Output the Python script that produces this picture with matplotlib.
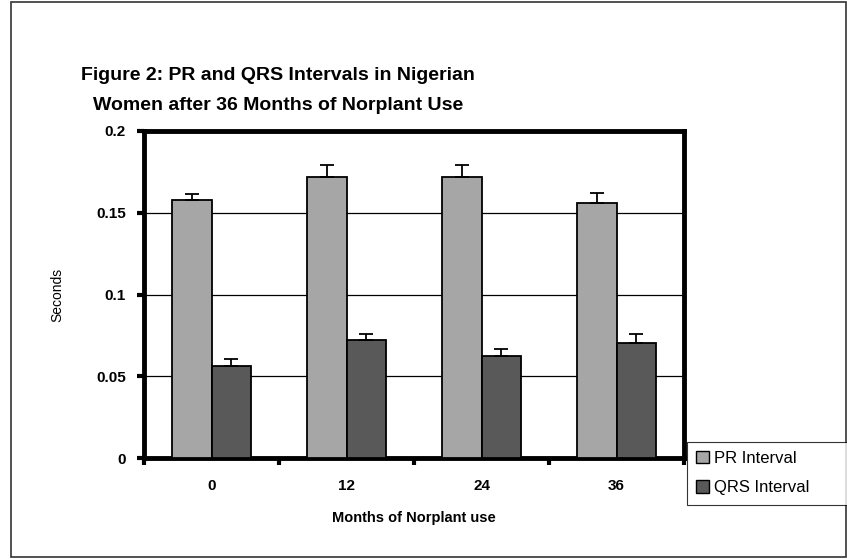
import matplotlib
matplotlib.use('Agg')
import matplotlib.pyplot as plt
from matplotlib.patches import Rectangle, Patch
import numpy as np

plt.rcParams['font.family'] = ['Liberation Sans', 'DejaVu Sans']

months = ['0', '12', '24', '36']
pr_interval = [0.158, 0.172, 0.172, 0.156]
pr_err = [0.0037, 0.007, 0.007, 0.0058]
qrs_interval = [0.056, 0.072, 0.0626, 0.0701]
qrs_err = [0.0047, 0.0037, 0.0039, 0.0058]

fig = plt.figure(figsize=(8.47, 5.59), dpi=100)
ax = fig.add_axes([144 / 847, 1 - 458 / 559, 540 / 847, 327 / 559])

x = np.arange(len(months))
w = 0.29
err_kw = dict(ecolor='black', elinewidth=1.3, capsize=4.7, capthick=1.3)
ax.bar(x - w / 2, pr_interval, w, color='#a6a6a6', edgecolor='black', linewidth=1.3,
       yerr=[np.zeros(len(pr_err)), pr_err], error_kw=err_kw, zorder=3)
ax.bar(x + w / 2, qrs_interval, w, color='#595959', edgecolor='black', linewidth=1.3,
       yerr=[np.zeros(len(qrs_err)), qrs_err], error_kw=err_kw, zorder=3)

ax.set_xlim(-0.5, 3.5)
ax.set_ylim(0, 0.2)
ax.set_yticks([0, 0.05, 0.1, 0.15, 0.2])
ax.set_yticklabels(['0', '0.05', '0.1', '0.15', '0.2'], fontsize=11, fontweight='bold')
ax.yaxis.grid(True, color='black', linewidth=0.9)
ax.set_axisbelow(True)

# category boundary ticks, labels at the centres
ax.set_xticks(np.arange(-0.5, 3.6, 1.0))
ax.set_xticklabels([])
ax.set_xticks(x, minor=True)
ax.set_xticklabels(months, minor=True, fontsize=11, fontweight='bold')
ax.tick_params(axis='x', which='minor', length=0, pad=15)
ax.tick_params(axis='both', which='major', direction='out', length=5, width=3)
ax.tick_params(axis='y', pad=8)

for s in ax.spines.values():
    s.set_linewidth(3.5)

ax.set_ylabel('Seconds', fontsize=10, labelpad=23)
ax.set_xlabel('Months of Norplant use', fontsize=10.5, fontweight='bold', labelpad=13)

fig.text(0.328, 1 - 75 / 559, 'Figure 2: PR and QRS Intervals in Nigerian',
         ha='center', va='center', fontsize=14, fontweight='bold')
fig.text(0.328, 1 - 105 / 559, 'Women after 36 Months of Norplant Use',
         ha='center', va='center', fontsize=14, fontweight='bold')

handles = [Patch(facecolor='#a6a6a6', edgecolor='black', label='PR Interval'),
           Patch(facecolor='#595959', edgecolor='black', label='QRS Interval')]
leg = fig.legend(handles=handles, loc='upper left', mode='expand',
                 bbox_to_anchor=(687 / 847, 1 - 506 / 559, 0.2, 64 / 559),
                 fontsize=12, frameon=True, fancybox=False, borderpad=0.55,
                 handlelength=0.75, handleheight=0.75, handletextpad=0.35, labelspacing=0.85,
                 borderaxespad=0)
leg.get_frame().set_edgecolor('black')
leg.get_frame().set_linewidth(0.8)

fig.patches.append(Rectangle((11 / 847, 2 / 559), 835 / 847, 555 / 559,
                             transform=fig.transFigure, fill=False,
                             edgecolor='#333333', linewidth=1.2))

fig.savefig('out.png', dpi=100)
